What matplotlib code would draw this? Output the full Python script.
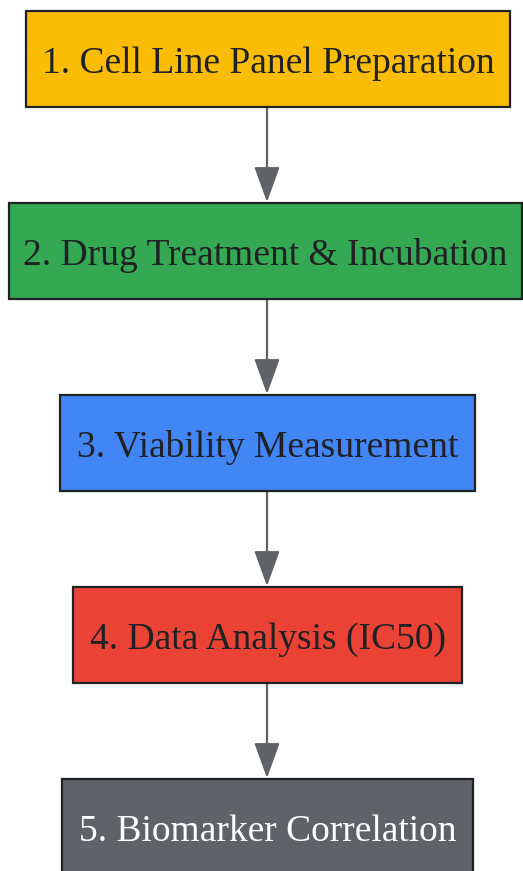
import matplotlib.pyplot as plt
from matplotlib.patches import Rectangle

steps = ['1. Cell Line Panel Preparation',
         '2. Drug Treatment & Incubation',
         '3. Viability Measurement',
         '4. Data Analysis (IC50)',
         '5. Biomarker Correlation']
fills = ['#FBBC05', '#34A853', '#4285F4', '#EA4335', '#5F6368']
text_colors = ['#202124', '#202124', '#202124', '#202124', '#FFFFFF']
# box extents in pixels (left, right)
lefts = [26, 9, 60, 73, 62]
rights = [510, 522, 475, 462, 473]
tops = [11, 203, 395, 587, 779]
box_h = 96

W, H = 523, 871
fig = plt.figure(figsize=(W / 100, H / 100), dpi=100)
ax = fig.add_axes([0, 0, 1, 1])
ax.set_xlim(0, W)
ax.set_ylim(H, 0)
ax.axis('off')

cx = 267
for i, label in enumerate(steps):
    x0, x1, y0 = lefts[i], rights[i], tops[i]
    ax.add_patch(Rectangle((x0, y0), x1 - x0, box_h, facecolor=fills[i],
                           edgecolor='#202124', linewidth=1.6, zorder=2))
    ax.text((x0 + x1) / 2, y0 + 62, label, color=text_colors[i],
            fontsize=27, family='Liberation Serif', ha='center',
            va='baseline', zorder=3)
    if i < len(steps) - 1:
        ax.annotate('', xy=(cx, tops[i + 1] - 1), xytext=(cx, y0 + box_h),
                    arrowprops=dict(arrowstyle='-|>,head_length=2.2,head_width=0.8',
                                    color='#5F6368', lw=1.6,
                                    shrinkA=0, shrinkB=0), zorder=1)

fig.savefig('out.png', dpi=100)
